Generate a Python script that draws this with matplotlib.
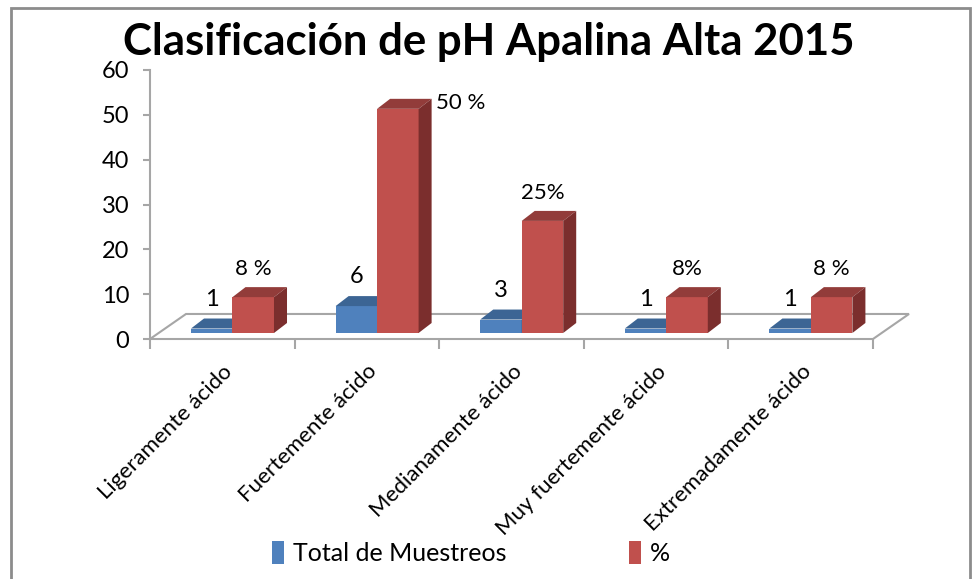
import matplotlib
matplotlib.use('Agg')
import matplotlib.pyplot as plt
from matplotlib.patches import Polygon, Rectangle

plt.rcParams['font.family'] = ['Lato', 'DejaVu Sans']

categories = ['Ligeramente ácido', 'Fuertemente ácido', 'Medianamente ácido',
              'Muy fuertemente ácido', 'Extremadamente ácido']
total_muestreos = [1, 6, 3, 1, 1]
porcentaje = [8, 50, 25, 8, 8]
total_labels = ['1', '6', '3', '1', '1']
pct_labels = ['8 %', '50 %', '25%', '8%', '8 %']

blue = ('#4F81BD', '#3C6594', '#34577F')
red = ('#C0504D', '#923C3A', '#7B2E2D')

fig = plt.figure(figsize=(9.72, 5.79), dpi=100)
ax = fig.add_axes([150 / 972, (579 - 339) / 579, 723 / 972, 269 / 579])
ax.set_xlim(0, 5)
ax.set_ylim(0, 60)

# chart border
fig.patches.append(Rectangle((11 / 972, -0.02), 959 / 972, 1 - 8 / 579 + 0.02,
                             transform=fig.transFigure, fill=False,
                             edgecolor='#8C8C8C', linewidth=2))

# floor (pseudo 3D)
fdx, fdy = 0.249, 5.58
floor = Polygon([(0, 0), (5, 0), (5 + fdx, fdy), (fdx, fdy)], closed=True,
                facecolor='white', edgecolor='#A6A6A6', linewidth=1.5,
                clip_on=False, zorder=1)
ax.add_patch(floor)

# bars
w = 0.287
base = 1.34
ddx, ddy = 0.09, 2.23


def bar3d(x0, h, cols):
    top = base + h
    ax.add_patch(Polygon([(x0, base), (x0 + w, base), (x0 + w, top), (x0, top)],
                         facecolor=cols[0], edgecolor='none', zorder=3, clip_on=False))
    ax.add_patch(Polygon([(x0, top), (x0 + w, top), (x0 + w + ddx, top + ddy),
                          (x0 + ddx, top + ddy)],
                         facecolor=cols[1], edgecolor='none', zorder=3, clip_on=False))
    ax.add_patch(Polygon([(x0 + w, base), (x0 + w + ddx, base + ddy),
                          (x0 + w + ddx, top + ddy), (x0 + w, top)],
                         facecolor=cols[2], edgecolor='none', zorder=3, clip_on=False))


for i in range(len(categories)):
    xb = i + 0.2835
    xr = xb + w
    bar3d(xb, total_muestreos[i], blue)
    bar3d(xr, porcentaje[i], red)
    ax.text(xb + w / 2, total_muestreos[i] + base + ddy + 4.3, total_labels[i],
            ha='center', va='center', fontsize=17)
    if porcentaje[i] >= 50:
        ax.text(xr + w + ddx + 0.03, porcentaje[i] + base + 1.2, pct_labels[i],
                ha='left', va='center', fontsize=16)
    else:
        ax.text(xr + w / 2, porcentaje[i] + base + ddy + 4.0, pct_labels[i],
                ha='center', va='center', fontsize=16)

# axes styling
for s in ['top', 'right', 'bottom']:
    ax.spines[s].set_visible(False)
ax.spines['left'].set_color('#A6A6A6')
ax.spines['left'].set_linewidth(1.5)
ax.set_yticks(range(0, 61, 10))
ax.tick_params(axis='y', colors='#A6A6A6', length=5, width=1.5, labelsize=17,
               labelcolor='black', pad=10)
ax.set_xticks([i + 0.5 for i in range(len(categories))])
ax.set_xticklabels(categories, rotation=45, ha='right', rotation_mode='anchor',
                   fontsize=16)
ax.tick_params(axis='x', length=0, pad=16)
ax.set_xticks(range(len(categories) + 1), minor=True)
ax.tick_params(axis='x', which='minor', length=7, width=1.5, colors='#A6A6A6')
ax.patch.set_visible(False)

fig.text(489 / 972, 1 - 42 / 579, 'Clasificación de pH Apalina Alta 2015',
         ha='center', va='center', fontsize=31.5, fontweight='bold')

handles = [Rectangle((0, 0), 1, 1, facecolor=blue[0]),
           Rectangle((0, 0), 1, 1, facecolor=red[0])]
fig.legend(handles, ['Total de Muestreos', '%'], loc='center',
           bbox_to_anchor=(471 / 972, 1 - 553 / 579), ncol=2, frameon=False,
           fontsize=18, handlelength=0.5, handleheight=1.0, handletextpad=0.35,
           columnspacing=4.9)

fig.savefig('out.png', dpi=100)
